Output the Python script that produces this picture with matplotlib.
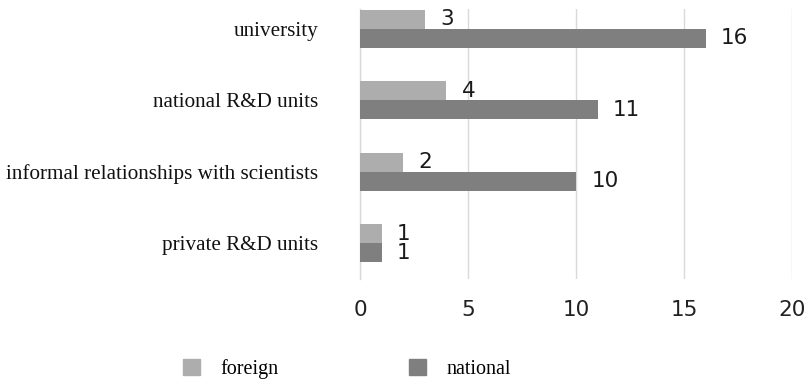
import numpy as np
import matplotlib
matplotlib.use("Agg")
import matplotlib.pyplot as plt

# sources of knowledge, top to bottom
categories = ["university", "national R&D units",
              "informal relationships with scientists", "private R&D units"]
foreign = [3, 4, 2, 1]
national = [16, 11, 10, 1]
x_ticks = [0, 5, 10, 15, 20]

c_foreign = "#adadad"
c_national = "#7f7f7f"
grid_c = "#d9d9d9"

W, H = 807, 379
fig = plt.figure(figsize=(W / 100, H / 100), dpi=100)
# axes box in pixels: left 360, right 792, top 9, bottom 279
ax = fig.add_axes([360 / W, (H - 279) / H, 432 / W, 270 / H])

y = np.arange(len(categories))[::-1].astype(float)
bh = 0.266

bars_f = ax.barh(y + bh / 2, foreign, height=bh, color=c_foreign, zorder=3)
bars_n = ax.barh(y - bh / 2, national, height=bh, color=c_national, zorder=3)

for bars, vals in ((bars_f, foreign), (bars_n, national)):
    for b, v in zip(bars, vals):
        ax.annotate(str(v), (b.get_width(), b.get_y() + b.get_height() / 2),
                    xytext=(11, 0), textcoords="offset points",
                    ha="left", va="center", fontsize=15.5,
                    family="DejaVu Sans", color="#1a1a1a")

ax.set_xlim(0, 20)
ax.set_ylim(-0.503, 3.273)
ax.set_xticks(x_ticks)
ax.set_xticklabels([str(t) for t in x_ticks], fontsize=15.5,
                   family="DejaVu Sans", color="#222222")
ax.set_yticks(y)
ax.set_yticklabels(categories, fontsize=15.2, family="Liberation Serif",
                   color="#111111")
ax.tick_params(axis="x", length=0, pad=15)
ax.tick_params(axis="y", length=0, pad=30)

ax.grid(axis="x", color=grid_c, linewidth=1.0, zorder=0)
for s in ("top", "right", "bottom"):
    ax.spines[s].set_visible(False)
ax.spines["left"].set_color(grid_c)
ax.spines["left"].set_linewidth(1.0)

handles = [plt.Rectangle((0, 0), 1, 1, color=c_foreign),
           plt.Rectangle((0, 0), 1, 1, color=c_national)]
fig.legend(handles, ["foreign", "national"], loc="center left",
           bbox_to_anchor=(183 / W, 1 - 369 / H), ncol=2, frameon=False,
           borderpad=0, borderaxespad=0, handlelength=0.85, handleheight=0.85,
           handletextpad=1.0, columnspacing=6.5,
           prop={"family": "Liberation Serif", "size": 14.5})

fig.savefig("out.png", dpi=100)
